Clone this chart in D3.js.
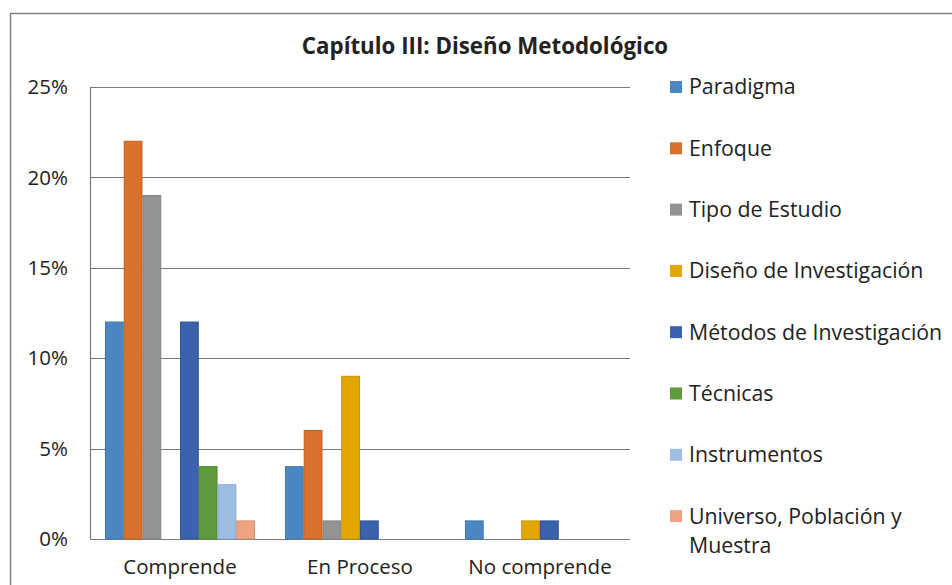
<!DOCTYPE html>
<html>
<head>
<meta charset="utf-8">
<script src="https://cdn.jsdelivr.net/npm/d3@7"></script>
<style>
  body { margin: 0; background: #fff; }
  text { font-family: "Open Sans", sans-serif; fill: #222; }
</style>
</head>
<body>
<div id="chart"></div>
<script>
// Data
const categories = ["Comprende", "En Proceso", "No comprende"];
const seriesNames = ["Paradigma", "Enfoque", "Tipo de Estudio", "Diseño de Investigación",
  "Métodos de Investigación", "Técnicas", "Instrumentos", "Universo, Población y Muestra"];
const paradigma = [12, 4, 1];
const enfoque = [22, 6, 0];
const tipoEstudio = [19, 1, 0];
const disenoInv = [0, 9, 1];
const metodosInv = [12, 1, 1];
const tecnicas = [4, 0, 0];
const instrumentos = [3, 0, 0];
const universo = [1, 0, 0];
const yTicks = [0, 5, 10, 15, 20, 25];

const seriesValues = [paradigma, enfoque, tipoEstudio, disenoInv, metodosInv, tecnicas, instrumentos, universo];
const colors = ["#4a87c2", "#d9702b", "#939393", "#e3a700", "#3b63ad", "#5f9a3c", "#9dbde3", "#f0a384"];
const strokes = ["#3f76ab", "#c0601f", "#818181", "#c99400", "#2f5497", "#4f8532", "#87a9d1", "#d98d6f"];

const W = 952, H = 585;
const margin = { top: 87, right: 322, bottom: 46, left: 90 };
const width = W - margin.left - margin.right;
const height = H - margin.top - margin.bottom;

const svg = d3.select("#chart").append("svg")
    .attr("width", W)
    .attr("height", H);

// outer chart frame
svg.append("rect")
    .attr("x", 10.5).attr("y", 13.5)
    .attr("width", W).attr("height", H)
    .attr("fill", "none")
    .attr("stroke", "#7f7f7f")
    .attr("stroke-width", 1.5);

svg.append("text")
    .attr("x", 485).attr("y", 54)
    .attr("text-anchor", "middle")
    .style("font-size", "22.3px")
    .style("font-weight", "bold")
    .text("Capítulo III: Diseño Metodológico");

const g = svg.append("g").attr("transform", `translate(${margin.left},${margin.top})`);

const x0 = d3.scaleBand().domain(categories).range([0, width]).paddingInner(0.166).paddingOuter(0.083);
const x1 = d3.scaleBand().domain(d3.range(seriesNames.length)).range([0, x0.bandwidth()]);
const y = d3.scaleLinear().domain([0, 25]).range([height, 0]);

// gridlines
g.append("g")
    .selectAll("line")
    .data(yTicks)
    .join("line")
    .attr("x1", 0).attr("x2", width)
    .attr("y1", d => Math.round(y(d)) + 0.5).attr("y2", d => Math.round(y(d)) + 0.5)
    .attr("stroke", "#7a7a7a")
    .attr("stroke-width", 1.2);

// y axis line
g.append("line")
    .attr("x1", 0.5).attr("x2", 0.5)
    .attr("y1", 0).attr("y2", height)
    .attr("stroke", "#7a7a7a")
    .attr("stroke-width", 1.2);

// y tick labels
g.append("g")
    .selectAll("text")
    .data(yTicks)
    .join("text")
    .attr("x", -22)
    .attr("y", d => y(d))
    .attr("dy", "0.35em")
    .attr("text-anchor", "end")
    .style("font-size", "20.5px")
    .text(d => d + "%");

// bars
const groups = g.selectAll("g.cat")
    .data(categories)
    .join("g")
    .attr("class", "cat")
    .attr("transform", d => `translate(${x0(d)},0)`);

groups.selectAll("rect")
    .data((c, ci) => seriesValues.map((vals, si) => ({ si, v: vals[ci] })).filter(d => d.v > 0))
    .join("rect")
    .attr("x", d => x1(d.si) + 0.5)
    .attr("y", d => y(d.v))
    .attr("width", x1.bandwidth() - 1)
    .attr("height", d => height - y(d.v))
    .attr("fill", d => colors[d.si])
    .attr("stroke", d => strokes[d.si])
    .attr("stroke-width", 1);

// x category labels
g.append("g")
    .selectAll("text")
    .data(categories)
    .join("text")
    .attr("x", d => x0(d) + x0.bandwidth() / 2)
    .attr("y", height + 35)
    .attr("text-anchor", "middle")
    .style("font-size", "20.5px")
    .text(d => d);

// legend
const legend = svg.append("g").attr("transform", "translate(670,87)");
const item = legend.selectAll("g")
    .data(seriesNames)
    .join("g")
    .attr("transform", (d, i) => `translate(0,${i * 61.3})`);

item.append("rect")
    .attr("x", 0).attr("y", -6)
    .attr("width", 12).attr("height", 12)
    .attr("fill", (d, i) => colors[i]);

item.append("text")
    .attr("x", 19)
    .attr("y", 0)
    .attr("dy", "0.35em")
    .style("font-size", "21.3px")
    .each(function(d) {
        const t = d3.select(this);
        if (d.startsWith("Universo")) {
            t.append("tspan").attr("x", 19).text("Universo, Población y");
            t.append("tspan").attr("x", 19).attr("dy", "1.36em").text("Muestra");
        } else {
            t.text(d);
        }
    });
</script>
</body>
</html>
